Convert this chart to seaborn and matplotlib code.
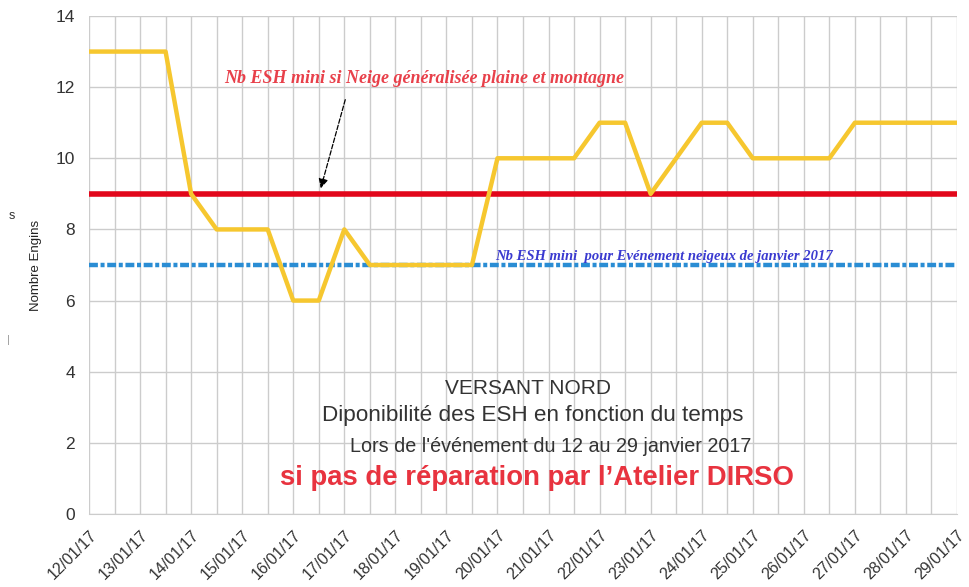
import pandas as pd
import matplotlib
matplotlib.use("Agg")
import matplotlib.pyplot as plt
import matplotlib.dates as mdates
import seaborn as sns

# half-day readings, 12/01/17 00h -> 29/01/17 00h
start = "2017-01-12"
end = "2017-01-29"
nb_engins = [13, 13, 13, 13, 9, 8, 8, 8, 6, 6, 8, 7, 7, 7, 7, 7, 10, 10, 10, 10,
             11, 11, 9, 10, 11, 11, 10, 10, 10, 10, 11, 11, 11, 11, 11]
seuil_neige = 9
seuil_janvier = 7

txt_rouge = "Nb ESH mini si Neige généralisée plaine et montagne"
txt_bleu = "Nb ESH mini  pour Evénement neigeux de janvier 2017"
titre1 = "VERSANT NORD"
titre2 = "Diponibilité des ESH en fonction du temps"
titre3 = "Lors de l'événement du 12 au 29 janvier 2017"
titre4 = "si pas de réparation par l’Atelier DIRSO"

dates = pd.date_range(start, end, freq="12h")
df = pd.DataFrame({"date": dates, "engins": nb_engins})
df["neige"] = seuil_neige
df["janvier"] = seuil_janvier

sns.set_style("white")
plt.rcParams["font.family"] = ["Liberation Sans", "DejaVu Sans"]

fig = plt.figure(figsize=(9.7, 5.87), dpi=100)
ax = fig.add_axes([89 / 970, 1 - 514 / 587, 868 / 970, 498 / 587])

sns.lineplot(data=df, x="date", y="janvier", ax=ax, color="#2a8dd4", lw=3.2,
             linestyle=(0, (2.0, 0.6, 0.9, 0.6)), zorder=3)
sns.lineplot(data=df, x="date", y="neige", ax=ax, color="#e2071b", lw=4, zorder=3)
sns.lineplot(data=df, x="date", y="engins", ax=ax, color="#f6c72f", lw=3.2, zorder=4)

ax.set_xlim(dates[0], dates[-1])
ax.set_ylim(0, 14)
ax.set_yticks(range(0, 15, 2))

ax.xaxis.set_major_locator(mdates.HourLocator(byhour=[0, 12]))
ax.xaxis.set_minor_locator(mdates.HourLocator(byhour=[6, 18]))
ax.xaxis.set_major_formatter(plt.FuncFormatter(
    lambda v, p: mdates.num2date(v).strftime("%d/%m/%y") if mdates.num2date(v).hour == 0 else ""))
plt.setp(ax.get_xticklabels(), rotation=45, ha="right", rotation_mode="anchor")

ax.tick_params(axis="x", which="major", length=8, color="#cccccc", labelsize=11.5,
               labelcolor="#333333", pad=2)
ax.tick_params(axis="x", which="minor", direction="in", length=6, color="#cccccc")
ax.tick_params(axis="y", length=0, labelsize=12.5, labelcolor="#333333", pad=10)

ax.grid(True, which="major", color="#cccccc", lw=1)
for s in ["top", "right", "left"]:
    ax.spines[s].set_visible(False)
ax.spines["bottom"].set_color("#cccccc")

ax.set_xlabel("")
ax.set_ylabel("Nombre Engins", fontsize=9.5, color="#222222", labelpad=10)

serif = ["Liberation Serif", "DejaVu Serif"]
ax.text(0.386, 0.874, txt_rouge, transform=ax.transAxes, ha="center", va="center",
        fontsize=13, style="italic", weight="bold", color="#e8404a", family=serif)
ax.text(0.662, 0.517, txt_bleu, transform=ax.transAxes, ha="center", va="center",
        fontsize=10.5, style="italic", weight="bold", color="#3a3ad0", family=serif)
ax.annotate("", xy=(320 / 970, 1 - 191 / 587), xytext=(346 / 970, 1 - 97 / 587),
            xycoords="figure fraction", textcoords="figure fraction",
            arrowprops=dict(arrowstyle="-|>", color="black", lw=0.9, ls="--",
                            mutation_scale=14))

fig.text(528 / 970, 1 - 388 / 587, titre1, ha="center", va="center", fontsize=15, color="#333333")
fig.text(533 / 970, 1 - 415 / 587, titre2, ha="center", va="center", fontsize=16.2, color="#333333")
fig.text(551 / 970, 1 - 446 / 587, titre3, ha="center", va="center", fontsize=14.2, color="#333333")
fig.text(537 / 970, 1 - 478 / 587, titre4, ha="center", va="center", fontsize=19.8,
         weight="bold", color="#e8333f")

fig.text(12 / 970, 1 - 216 / 587, "s", ha="center", va="center", fontsize=9, color="#333333")
fig.text(8 / 970, 1 - 340 / 587, "|", ha="center", va="center", fontsize=8, color="#999999")

fig.savefig("out.png", dpi=100)
